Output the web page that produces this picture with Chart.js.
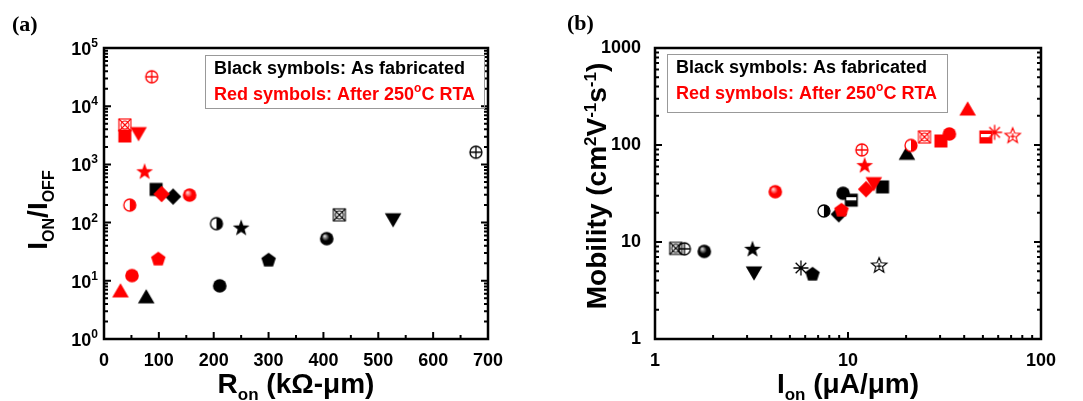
<!DOCTYPE html>
<html>
<head>
<meta charset="utf-8">
<script src="https://cdn.jsdelivr.net/npm/chart.js@4.4.0/dist/chart.umd.min.js"></script>
<style>
  body { margin: 0; background: #fff; }
  #wrap { position: relative; width: 1083px; height: 401px; }
  #c1 { position: absolute; left: 0; top: 0; }
  #c2 { position: absolute; left: 541px; top: 0; }
</style>
</head>
<body>
<div id="wrap">
  <canvas id="c1" width="541" height="401"></canvas>
  <canvas id="c2" width="542" height="401"></canvas>
</div>
<script>
// ---- panel (a): Ron (kOhm-um) vs ION/IOFF ----
var ronBlack   = [95, 126, 205, 250, 300, 211, 77, 406, 429, 527, 678];
var ratioBlack = [372, 280, 96, 82, 23, 8.2, 5.3, 53, 136, 112, 1620];
var symBlackA  = ['square', 'diamond', 'halfCircle', 'star', 'pentagon', 'circle', 'triangle', 'ball', 'xSquare', 'triDown', 'crossCircle'];

var ronRed   = [87, 38, 38, 63, 74, 105, 156, 47, 99, 51, 30];
var ratioRed = [32000, 4760, 3080, 3380, 760, 310, 297, 200, 24, 12.3, 6.7];
var symRedA  = ['crossCircle', 'xSquare', 'square', 'triDown', 'star', 'diamond', 'ball', 'halfCircle', 'pentagon', 'circle', 'triangle'];

// ---- panel (b): Ion (uA/um) vs mobility ----
var ionBlack = [1.28, 1.42, 1.80, 3.2, 3.26, 5.7, 6.55, 7.5, 8.96, 9.43, 10.4, 14.5, 15.1, 20.2];
var mobBlack = [8.6, 8.5, 8.0, 8.5, 4.8, 5.4, 4.7, 20.9, 19.3, 31.8, 27, 5.8, 37, 82];
var symBlackB = ['xSquare', 'crossCircle', 'ball', 'star', 'triDown', 'asterisk', 'pentagon', 'halfCircle', 'diamond', 'circle', 'halfSquare', 'starOutline', 'square', 'triangle'];

var ionRed = [4.2, 9.25, 11.8, 12.2, 12.4, 13.6, 21.2, 24.9, 30.3, 33.5, 41.7, 51.8, 57.5, 71.3];
var mobRed = [33, 21.5, 89, 62, 35, 40, 99, 121, 110, 130, 235, 121, 135, 126];
var symRedB = ['ball', 'pentagon', 'crossCircle', 'star', 'diamond', 'triDown', 'halfCircle', 'xSquare', 'square', 'circle', 'triangle', 'halfSquare', 'asterisk', 'starOutline'];

var ronTicks = [0, 100, 200, 300, 400, 500, 600, 700];
var ratioTicks = [1, 10, 100, 1000, 10000, 100000];
var ionTicks = [1, 10, 100];
var mobTicks = [1, 10, 100, 1000];

var SANS = '"Liberation Sans", Arial, sans-serif';
var RED = '#ff0000';

function marker(kind, color) {
    var c = document.createElement('canvas');
    c.width = 20; c.height = 20;
    var g = c.getContext('2d');
    g.translate(10, 10);
    g.fillStyle = color;
    g.strokeStyle = color;
    g.lineWidth = 1.3;
    function poly(pts) {
        g.beginPath();
        pts.forEach(function (p, i) { if (i) g.lineTo(p[0], p[1]); else g.moveTo(p[0], p[1]); });
        g.closePath();
    }
    function star(ro, ri) {
        var pts = [];
        for (var i = 0; i < 10; i++) {
            var a = -Math.PI / 2 + i * Math.PI / 5;
            var rr = i % 2 ? ri : ro;
            pts.push([rr * Math.cos(a), rr * Math.sin(a) + 0.6]);
        }
        poly(pts);
    }
    switch (kind) {
        case 'square': g.fillRect(-6.5, -6.5, 13, 13); break;
        case 'halfSquare':
            g.fillRect(-6.5, -6.5, 13, 13);
            g.fillStyle = '#fff'; g.fillRect(-5, -3, 10, 3.2);
            break;
        case 'circle': g.beginPath(); g.arc(0, 0, 6.8, 0, 7); g.fill(); break;
        case 'ball':
            var gr = g.createRadialGradient(-2.2, -2.7, 0.5, 0, 0, 7);
            gr.addColorStop(0, color == '#000' ? '#d8d8d8' : '#ffd0d0');
            gr.addColorStop(0.5, color);
            gr.addColorStop(1, color);
            g.fillStyle = gr;
            g.beginPath(); g.arc(0, 0, 6.8, 0, 7); g.fill();
            break;
        case 'halfCircle':
            g.fillStyle = '#fff';
            g.beginPath(); g.arc(0, 0, 6, 0, 7); g.fill(); g.stroke();
            g.fillStyle = color;
            g.beginPath(); g.arc(0, 0, 6, -Math.PI / 2, Math.PI / 2); g.closePath(); g.fill();
            break;
        case 'diamond': poly([[0, -8.2], [8.2, 0], [0, 8.2], [-8.2, 0]]); g.fill(); break;
        case 'triangle': poly([[0, -7.8], [8.3, 6.5], [-8.3, 6.5]]); g.fill(); break;
        case 'triDown': poly([[0, 7.8], [8.3, -6.5], [-8.3, -6.5]]); g.fill(); break;
        case 'star': star(8.8, 3.6); g.fill(); break;
        case 'pentagon':
            var pts = [];
            for (var i = 0; i < 5; i++) {
                var a = -Math.PI / 2 + i * 2 * Math.PI / 5;
                pts.push([7.6 * Math.cos(a), 7.6 * Math.sin(a) + 0.7]);
            }
            poly(pts); g.fill();
            break;
        case 'crossCircle':
            g.beginPath(); g.arc(0, 0, 6, 0, 7); g.stroke();
            g.beginPath(); g.moveTo(-6, 0); g.lineTo(6, 0); g.moveTo(0, -6); g.lineTo(0, 6); g.stroke();
            break;
        case 'xSquare':
            g.lineWidth = 1.1;
            g.strokeRect(-6, -6, 12, 12);
            g.beginPath(); g.moveTo(-6, -6); g.lineTo(6, 6); g.moveTo(6, -6); g.lineTo(-6, 6); g.stroke();
            g.beginPath(); g.arc(0, 0, 4, 0, 7); g.stroke();
            break;
        case 'asterisk':
            g.beginPath();
            for (var k = 0; k < 4; k++) {
                var b = k * Math.PI / 4;
                g.moveTo(-7.5 * Math.cos(b), -7.5 * Math.sin(b));
                g.lineTo(7.5 * Math.cos(b), 7.5 * Math.sin(b));
            }
            g.stroke();
            break;
        case 'starOutline':
            g.lineWidth = 1.2;
            star(8, 3.5); g.stroke();
            g.beginPath(); g.moveTo(-2.5, 1.2); g.lineTo(2.5, 1.2); g.moveTo(0, -2); g.lineTo(0, 3.8); g.stroke();
            break;
    }
    return c;
}

function series(label, xs, ys, syms, color, order) {
    return {
        label: label,
        data: xs.map(function (x, i) { return { x: x, y: ys[i] }; }),
        pointStyle: syms.map(function (s) { return marker(s, color); }),
        pointRadius: 7,
        order: order,
        clip: false
    };
}

// text made of runs: [text, size, raise, color]
function drawRuns(ctx, runs, x, y, align) {
    var w = 0;
    runs.forEach(function (r) { ctx.font = 'bold ' + r[1] + 'px ' + SANS; w += ctx.measureText(r[0]).width; });
    var cx = align == 'center' ? x - w / 2 : (align == 'right' ? x - w : x);
    ctx.textAlign = 'left';
    ctx.textBaseline = 'alphabetic';
    runs.forEach(function (r) {
        ctx.font = 'bold ' + r[1] + 'px ' + SANS;
        ctx.fillStyle = r[3] || '#000';
        ctx.fillText(r[0], cx, y - (r[2] || 0));
        cx += ctx.measureText(r[0]).width;
    });
}

function logMinor(min, max) {
    var out = [];
    for (var d = min; d < max; d *= 10)
        for (var k = 2; k <= 9; k++) out.push(d * k);
    return out;
}

function makeDecor(cfg) {
    return {
        id: 'decor',
        beforeDatasetsDraw: function (chart) {
            var ctx = chart.ctx, a = chart.chartArea;
            var sx = chart.scales.x, sy = chart.scales.y;
            ctx.save();
            ctx.strokeStyle = '#000';
            ctx.lineWidth = 2;
            ctx.beginPath();
            cfg.xMajor.forEach(function (v) { var p = sx.getPixelForValue(v); ctx.moveTo(p, a.bottom); ctx.lineTo(p, a.bottom - 7); });
            cfg.xMinor.forEach(function (v) { var p = sx.getPixelForValue(v); ctx.moveTo(p, a.bottom); ctx.lineTo(p, a.bottom - 4); });
            cfg.yMajor.forEach(function (v) {
                var p = sy.getPixelForValue(v);
                ctx.moveTo(a.left, p); ctx.lineTo(a.left + 7, p);
                ctx.moveTo(a.right, p); ctx.lineTo(a.right - 7, p);
            });
            cfg.yMinor.forEach(function (v) {
                var p = sy.getPixelForValue(v);
                ctx.moveTo(a.left, p); ctx.lineTo(a.left + 4, p);
                ctx.moveTo(a.right, p); ctx.lineTo(a.right - 4, p);
            });
            ctx.stroke();
            ctx.lineWidth = 2.5;
            ctx.strokeRect(a.left, a.top, a.right - a.left, a.bottom - a.top);

            // exponent tick labels
            if (cfg.powLabels) {
                cfg.yMajor.forEach(function (v) {
                    var p = sy.getPixelForValue(v);
                    drawRuns(ctx, [['10', 18, 0], [String(Math.round(Math.log10(v))), 12, 8]], a.left - 6, p + 7, 'right');
                });
            }

            // axis titles
            drawRuns(ctx, cfg.xTitle, (a.left + a.right) / 2, 393, 'center');
            ctx.save();
            ctx.translate(cfg.yTitlePos[0], cfg.yTitlePos[1]);
            ctx.rotate(-Math.PI / 2);
            drawRuns(ctx, cfg.yTitle, 0, 0, 'center');
            ctx.restore();

            // panel letter
            ctx.font = 'bold 22px "Liberation Serif", "Times New Roman", serif';
            ctx.fillStyle = '#000';
            ctx.textAlign = 'left';
            ctx.fillText(cfg.letter, cfg.letterPos[0], cfg.letterPos[1]);

            // note box
            var b = cfg.box;
            ctx.lineWidth = 1;
            ctx.strokeStyle = '#999';
            ctx.strokeRect(b[0] + 0.5, b[1] + 0.5, b[2], b[3]);
            drawRuns(ctx, [['Black symbols: As fabricated', 18, 0, '#000']], b[0] + 9, b[1] + 19, 'left');
            drawRuns(ctx, [['Red symbols: After 250', 18, 0, RED], ['o', 12, 8, RED], ['C RTA', 18, 0, RED]], b[0] + 9, b[1] + 45, 'left');
            ctx.restore();
        }
    };
}

var tickFont = { family: SANS, size: 18, weight: 'bold' };

new Chart(document.getElementById('c1'), {
    type: 'scatter',
    data: {
        datasets: [
            series('After 250°C RTA', ronRed, ratioRed, symRedA, RED, 1),
            series('As fabricated', ronBlack, ratioBlack, symBlackA, '#000', 2)
        ]
    },
    options: {
        responsive: false,
        animation: false,
        events: [],
        layout: { padding: { top: 48, right: 53, left: 0, bottom: 0 } },
        plugins: { legend: { display: false }, tooltip: { enabled: false } },
        scales: {
            x: {
                type: 'linear', min: 0, max: 700,
                afterFit: function (s) { s.height = 62; },
                afterBuildTicks: function (s) { s.ticks = ronTicks.map(function (v) { return { value: v }; }); },
                grid: { display: false }, border: { display: false },
                ticks: { color: '#000', font: tickFont, padding: 3, autoSkip: false, maxRotation: 0 }
            },
            y: {
                type: 'logarithmic', min: 1, max: 100000,
                afterFit: function (s) { s.width = 104; },
                grid: { display: false }, border: { display: false },
                ticks: { display: false }
            }
        }
    },
    plugins: [makeDecor({
        xMajor: ronTicks,
        xMinor: [50, 150, 250, 350, 450, 550, 650],
        yMajor: ratioTicks,
        yMinor: logMinor(1, 100000),
        powLabels: true,
        xTitle: [['R', 28, 0], ['on', 17, -7], [' (kΩ-μm)', 28, 0]],
        yTitle: [['I', 28, 0], ['ON', 16, -7], ['/I', 28, 0], ['OFF', 16, -7]],
        yTitlePos: [47, 210],
        letter: '(a)', letterPos: [12, 31],
        box: [205, 55, 279, 53]
    })]
});

new Chart(document.getElementById('c2'), {
    type: 'scatter',
    data: {
        datasets: [
            series('After 250°C RTA', ionRed, mobRed, symRedB, RED, 1),
            series('As fabricated', ionBlack, mobBlack, symBlackB, '#000', 2)
        ]
    },
    options: {
        responsive: false,
        animation: false,
        events: [],
        layout: { padding: { top: 48, right: 42, left: 0, bottom: 0 } },
        plugins: { legend: { display: false }, tooltip: { enabled: false } },
        scales: {
            x: {
                type: 'logarithmic', min: 1, max: 100,
                afterFit: function (s) { s.height = 62; },
                afterBuildTicks: function (s) { s.ticks = ionTicks.map(function (v) { return { value: v }; }); },
                grid: { display: false }, border: { display: false },
                ticks: { color: '#000', font: tickFont, padding: 3, autoSkip: false, maxRotation: 0,
                         callback: function (v) { return String(v); } }
            },
            y: {
                type: 'logarithmic', min: 1, max: 1000,
                afterFit: function (s) { s.width = 114; },
                afterBuildTicks: function (s) { s.ticks = mobTicks.map(function (v) { return { value: v }; }); },
                grid: { display: false }, border: { display: false },
                ticks: { color: '#000', font: tickFont, padding: 6, autoSkip: false,
                         callback: function (v) { return String(v); } }
            }
        }
    },
    plugins: [makeDecor({
        xMajor: ionTicks,
        xMinor: logMinor(1, 100),
        yMajor: mobTicks,
        yMinor: logMinor(1, 1000),
        powLabels: false,
        xTitle: [['I', 28, 0], ['on', 17, -7], [' (μA/μm)', 28, 0]],
        yTitle: [['Mobility (cm', 28, 0], ['2', 17, 10], ['V', 28, 0], ['-1', 17, 10], ['s', 28, 0], ['-1', 17, 10], [')', 28, 0]],
        yTitlePos: [65, 186],
        letter: '(b)', letterPos: [26, 30],
        box: [126, 54, 280, 58]
    })]
});
</script>
</body>
</html>
